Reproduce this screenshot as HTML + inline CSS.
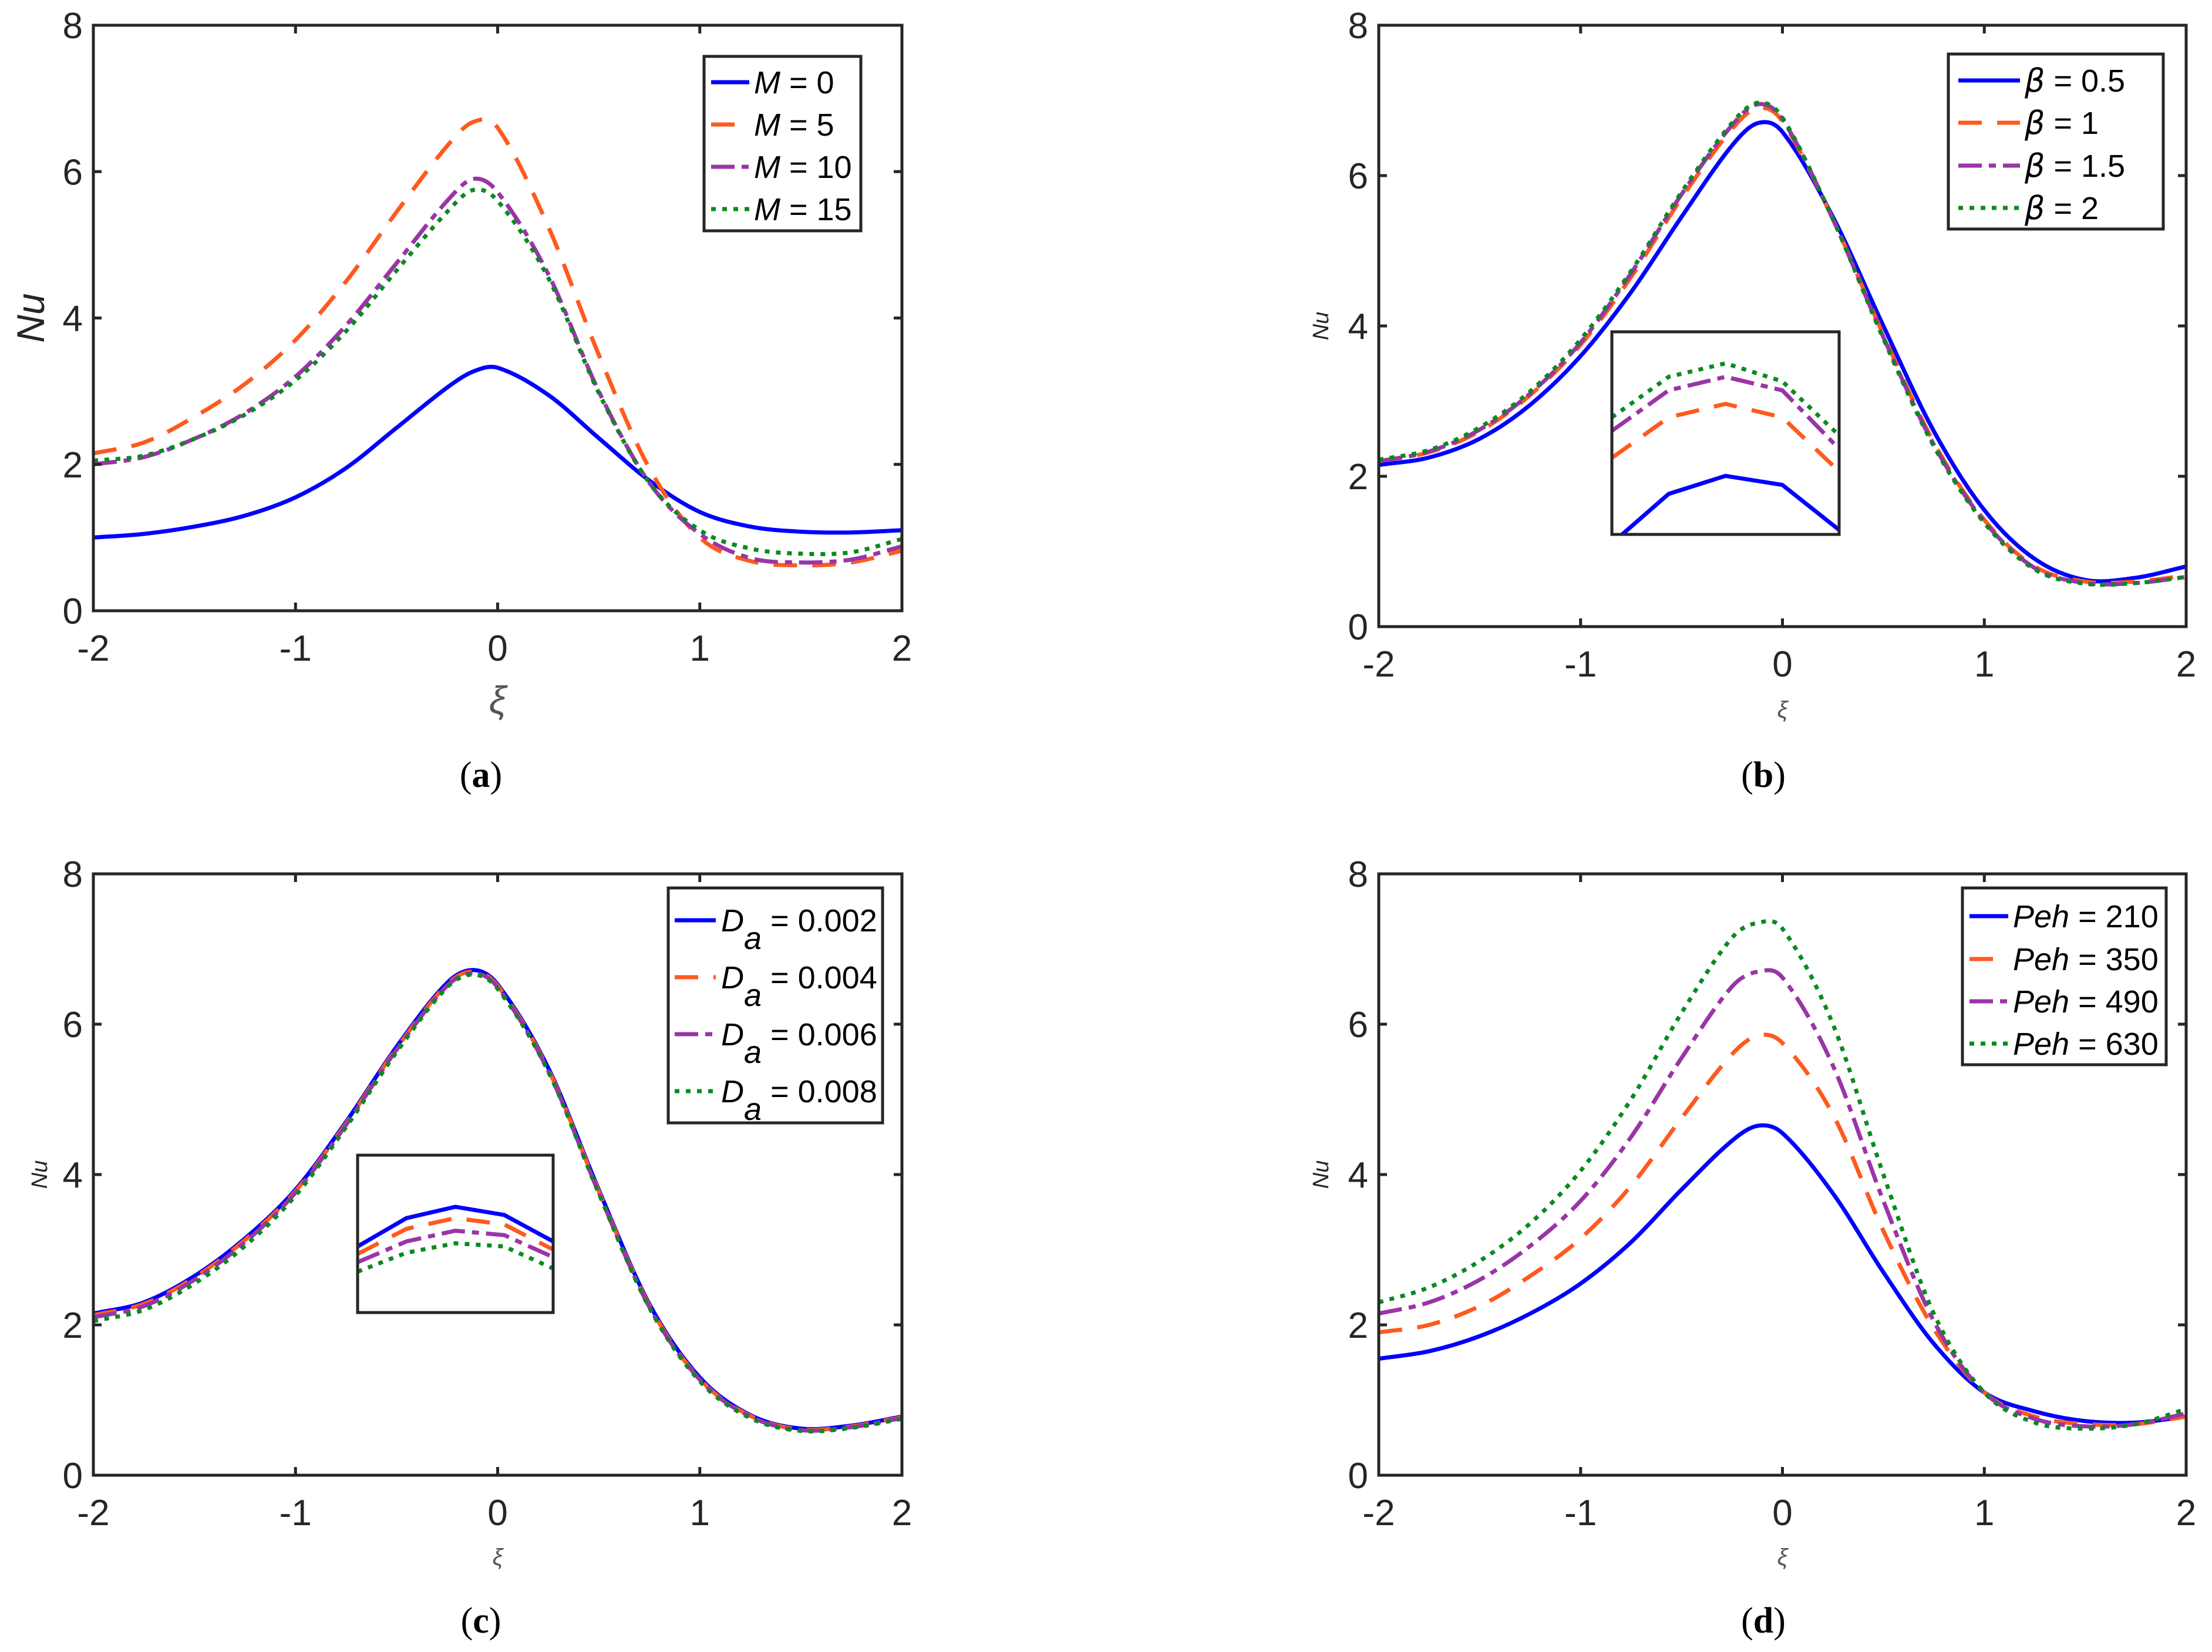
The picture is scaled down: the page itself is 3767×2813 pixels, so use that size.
<!DOCTYPE html>
<html><head><meta charset="utf-8"><style>
html,body{margin:0;padding:0;background:#fff;}
svg{display:block;}
</style></head><body>
<svg id="fig" xmlns="http://www.w3.org/2000/svg" width="3767" height="2813" viewBox="0 0 3767 2813" font-family="Liberation Sans, Arial, sans-serif"></svg>
<script>
// ---------- data ----------
const xs = [-2,-1.75,-1.5,-1.25,-1,-0.75,-0.5,-0.25,-0.12,0,0.25,0.5,0.75,1,1.25,1.5,1.75,2];
const xTicks = [-2,-1,0,1,2];
const xTickLabels = ["-2","-1","0","1","2"];
const yTicks = [0,2,4,6,8];
const yTickLabels = ["0","2","4","6","8"];
// panel a
const aM0  = [1.0,1.05,1.15,1.3,1.55,1.95,2.5,3.05,3.27,3.32,2.95,2.36,1.78,1.35,1.15,1.08,1.07,1.1];
const aM5  = [2.15,2.3,2.65,3.1,3.7,4.5,5.45,6.35,6.68,6.6,5.25,3.5,1.95,1.0,0.68,0.62,0.66,0.82];
const aM10 = [2.0,2.1,2.35,2.7,3.2,3.9,4.75,5.6,5.9,5.72,4.6,3.0,1.75,1.05,0.72,0.66,0.7,0.88];
const aM15 = [2.05,2.12,2.35,2.68,3.15,3.82,4.65,5.45,5.75,5.6,4.55,2.98,1.75,1.1,0.85,0.78,0.8,0.98];
// panel b
const bB05 = [2.15,2.25,2.5,2.95,3.6,4.45,5.45,6.4,6.7,6.58,5.45,4.0,2.6,1.55,0.9,0.62,0.65,0.8];
const bB1  = [2.2,2.32,2.6,3.08,3.75,4.65,5.7,6.62,6.9,6.72,5.42,3.88,2.45,1.42,0.8,0.6,0.6,0.68];
const bB15 = [2.2,2.33,2.62,3.1,3.78,4.7,5.75,6.67,6.95,6.75,5.42,3.85,2.42,1.4,0.78,0.58,0.58,0.66];
const bB2  = [2.22,2.35,2.65,3.13,3.82,4.73,5.78,6.7,6.97,6.77,5.42,3.83,2.4,1.38,0.76,0.57,0.58,0.66];
// panel c
const cD2 = [2.15,2.3,2.65,3.15,3.8,4.7,5.7,6.55,6.72,6.53,5.42,3.8,2.28,1.3,0.8,0.62,0.66,0.78];
const cD4 = [2.13,2.28,2.63,3.13,3.78,4.68,5.68,6.53,6.7,6.51,5.4,3.78,2.26,1.28,0.79,0.61,0.65,0.77];
const cD6 = [2.1,2.25,2.6,3.1,3.76,4.66,5.66,6.51,6.68,6.49,5.38,3.76,2.24,1.27,0.78,0.6,0.64,0.76];
const cD8 = [2.05,2.2,2.55,3.05,3.72,4.63,5.63,6.49,6.66,6.47,5.37,3.75,2.23,1.25,0.76,0.59,0.63,0.75];
// panel d
const dP210 = [1.55,1.65,1.85,2.15,2.55,3.1,3.8,4.45,4.65,4.55,3.75,2.7,1.75,1.1,0.85,0.72,0.7,0.78];
const dP350 = [1.9,2.0,2.25,2.65,3.15,3.85,4.75,5.6,5.85,5.75,4.8,3.25,1.95,1.1,0.78,0.68,0.68,0.78];
const dP490 = [2.15,2.3,2.6,3.05,3.65,4.5,5.55,6.5,6.7,6.62,5.45,3.65,2.05,1.1,0.75,0.65,0.68,0.82];
const dP630 = [2.3,2.5,2.85,3.35,4.05,5.0,6.15,7.15,7.35,7.27,6.0,4.0,2.15,1.1,0.7,0.62,0.68,0.88];
// insets (zoomed peak region)
const insetXs = [-0.45,-0.35,-0.25,-0.15,-0.05];
const bInsetB05 = [6.53,6.64,6.68,6.66,6.56];
const bInsetB1  = [6.72,6.81,6.84,6.81,6.69];
const bInsetB15 = [6.78,6.87,6.90,6.87,6.74];
const bInsetB2  = [6.81,6.90,6.93,6.89,6.77];
const cInsetD2 = [6.605,6.65,6.668,6.655,6.613];
const cInsetD4 = [6.593,6.633,6.65,6.64,6.6];
const cInsetD6 = [6.58,6.613,6.63,6.623,6.588];
const cInsetD8 = [6.565,6.595,6.61,6.605,6.57];

// ---------- styles ----------
const NS = "http://www.w3.org/2000/svg";
const svg = document.getElementById('fig');
const ST = [
  {c:"#0000ff", d:null},
  {c:"#ff5a1e", d:"40 26"},
  {c:"#9a35a6", d:"40 12 12 12"},
  {c:"#0a8a20", d:"8 11"}
];
function el(tag, attrs, parent){
  const e = document.createElementNS(NS, tag);
  for (const k in attrs) e.setAttribute(k, attrs[k]);
  (parent||svg).appendChild(e);
  return e;
}
function hermitePath(X, Y, sx, sy){
  const n = X.length, m = [];
  for (let i=0;i<n;i++){
    const a = Math.max(0,i-1), b = Math.min(n-1,i+1);
    m.push((Y[b]-Y[a])/(X[b]-X[a]));
  }
  let d = "M"+sx(X[0]).toFixed(1)+","+sy(Y[0]).toFixed(1);
  for (let i=0;i<n-1;i++){
    const h = X[i+1]-X[i];
    const c1x = X[i]+h/3, c1y = Y[i]+m[i]*h/3;
    const c2x = X[i+1]-h/3, c2y = Y[i+1]-m[i+1]*h/3;
    d += " C"+sx(c1x).toFixed(1)+","+sy(c1y).toFixed(1)+" "+sx(c2x).toFixed(1)+","+sy(c2y).toFixed(1)+" "+sx(X[i+1]).toFixed(1)+","+sy(Y[i+1]).toFixed(1);
  }
  return d;
}

function panel(cfg){
  const g = el('g', {});
  
  
  const L=cfg.L,R=cfg.R,T=cfg.T,B=cfg.B;
  const sx = v => L + (v+2)/4*(R-L);
  const sy = v => B - v/8*(B-T);
  const clipId = 'clip'+cfg.id;
  const cp = el('clipPath',{id:clipId},g);
  el('rect',{x:L,y:T,width:R-L,height:B-T},cp);
  cfg.series.forEach((s,i)=>{
    const p = el('path',{d:hermitePath(xs, s, sx, sy), fill:'none', stroke:ST[i].c, 'stroke-width':7, 'clip-path':'url(#'+clipId+')'},g);
    if (ST[i].d) p.setAttribute('stroke-dasharray', ST[i].d);
    
    
  });
  const box = el('rect',{x:L,y:T,width:R-L,height:B-T,fill:'none',stroke:'#262626','stroke-width':5},g);
  
  
  xTicks.forEach((v,i)=>{
    const x=sx(v);
    el('line',{x1:x,y1:B,x2:x,y2:B-14,stroke:'#262626','stroke-width':5},g);
    el('line',{x1:x,y1:T,x2:x,y2:T+14,stroke:'#262626','stroke-width':5},g);
    const t = el('text',{x:x, y:cfg.xtY, 'font-size':62, 'text-anchor':'middle', fill:'#262626'},g);
    t.textContent = xTickLabels[i];
    
    
  });
  yTicks.forEach((v,i)=>{
    const y=sy(v);
    el('line',{x1:L,y1:y,x2:L+14,y2:y,stroke:'#262626','stroke-width':5},g);
    el('line',{x1:R,y1:y,x2:R-14,y2:y,stroke:'#262626','stroke-width':5},g);
    const t = el('text',{x:L-18, y:y+22, 'font-size':62, 'text-anchor':'end', fill:'#262626'},g);
    t.textContent = yTickLabels[i];
    
    
  });
  const yl = el('text',{transform:'translate('+cfg.ylX+','+((T+B)/2)+') rotate(-90)', 'font-size':cfg.ylSize, 'text-anchor':'middle', 'font-style':'italic', fill:'#262626'},g);
  yl.textContent='Nu';
  
  
  const xl = el('text',{x:(L+R)/2, y:cfg.xlY, 'font-size':cfg.xlSize, 'text-anchor':'middle', 'font-style':'italic', fill:'#555'},g);
  xl.textContent='ξ';
  
  
  const cap = el('text',{x:cfg.capX, y:cfg.capY, 'font-size':62, 'text-anchor':'middle', fill:'#000', 'font-family':'Liberation Serif, serif'},g);
  cap.innerHTML = '(<tspan font-weight="bold">'+cfg.id+'</tspan>)';
  
  
  if (cfg.inset){
    const I = cfg.inset;
    const ix = v => I.L + (v-insetXs[0])/(insetXs[insetXs.length-1]-insetXs[0])*(I.R-I.L);
    const iy = v => I.B - (v-I.ymin)/(I.ymax-I.ymin)*(I.B-I.T);
    const icp = el('clipPath',{id:clipId+'i'},g);
    el('rect',{x:I.L,y:I.T,width:I.R-I.L,height:I.B-I.T},icp);
    el('rect',{x:I.L,y:I.T,width:I.R-I.L,height:I.B-I.T,fill:'#fff'},g);
    I.series.forEach((s,i)=>{
      const pts = insetXs.map((x,j)=>ix(x)+','+iy(s[j])).join(' ');
      const p = el('polyline',{points:pts, fill:'none', stroke:ST[i].c, 'stroke-width':7, 'clip-path':'url(#'+clipId+'i)'},g);
      if (ST[i].d) p.setAttribute('stroke-dasharray', ST[i].d);
      
      
    });
    const ib = el('rect',{x:I.L,y:I.T,width:I.R-I.L,height:I.B-I.T,fill:'none',stroke:'#262626','stroke-width':5},g);
    
    
  }
  const Lg = cfg.legend;
  const lg = el('g',{},g);
  
  
  el('rect',{x:Lg.L,y:Lg.T,width:Lg.R-Lg.L,height:Lg.B-Lg.T,fill:'#fff',stroke:'#262626','stroke-width':5},lg);
  Lg.rows.forEach((ry,i)=>{
    const ln = el('line',{x1:Lg.s1,y1:ry,x2:Lg.s2,y2:ry,stroke:ST[i].c,'stroke-width':7},lg);
    if (ST[i].d) ln.setAttribute('stroke-dasharray', ST[i].d);
    const t = el('text',{x:Lg.tx, y:ry+19, 'font-size':Lg.fs, fill:'#000'},lg);
    t.innerHTML = Lg.labels[i];
    
    
  });
}

panel({id:'a', L:159,R:1536,T:43,B:1040, xtY:1125, ylX:75, ylSize:66, xlY:1215, xlSize:66, capX:819, capY:1340,
  series:[aM0,aM5,aM10,aM15],
  legend:{L:1199,R:1466,T:96,B:393, s1:1211,s2:1276, tx:1284, fs:54, rows:[140,212,284,356],
    labels:['<tspan font-style="italic">M</tspan> = 0','<tspan font-style="italic">M</tspan> = 5','<tspan font-style="italic">M</tspan> = 10','<tspan font-style="italic">M</tspan> = 15']}
});
panel({id:'b', L:2348,R:3723,T:43,B:1067, xtY:1152, ylX:2262, ylSize:38, xlY:1222, xlSize:40, capX:3003, capY:1340,
  series:[bB05,bB1,bB15,bB2],
  inset:{L:2745,R:3132,T:565,B:910, ymin:6.55, ymax:7.0, series:[bInsetB05,bInsetB1,bInsetB15,bInsetB2]},
  legend:{L:3318,R:3684,T:92,B:390, s1:3335,s2:3440, tx:3448, fs:54, rows:[137,209,282,354],
    labels:['<tspan font-style="italic" font-family="DejaVu Sans">β</tspan> = 0.5','<tspan font-style="italic" font-family="DejaVu Sans">β</tspan> = 1','<tspan font-style="italic" font-family="DejaVu Sans">β</tspan> = 1.5','<tspan font-style="italic" font-family="DejaVu Sans">β</tspan> = 2']}
});
panel({id:'c', L:159,R:1536,T:1488,B:2512, xtY:2597, ylX:80, ylSize:38, xlY:2665, xlSize:40, capX:819, capY:2780,
  series:[cD2,cD4,cD6,cD8],
  inset:{L:609,R:942,T:1967,B:2235, ymin:6.5, ymax:6.75, series:[cInsetD2,cInsetD4,cInsetD6,cInsetD8]},
  legend:{L:1138,R:1503,T:1512,B:1912, s1:1149,s2:1219, tx:1228, fs:54, rows:[1567,1664,1761,1858],
    labels:['<tspan font-style="italic">D</tspan><tspan font-style="italic" dy="30">a</tspan><tspan dy="-30"> = 0.002</tspan>','<tspan font-style="italic">D</tspan><tspan font-style="italic" dy="30">a</tspan><tspan dy="-30"> = 0.004</tspan>','<tspan font-style="italic">D</tspan><tspan font-style="italic" dy="30">a</tspan><tspan dy="-30"> = 0.006</tspan>','<tspan font-style="italic">D</tspan><tspan font-style="italic" dy="30">a</tspan><tspan dy="-30"> = 0.008</tspan>']}
});
panel({id:'d', L:2348,R:3723,T:1488,B:2512, xtY:2597, ylX:2262, ylSize:38, xlY:2665, xlSize:40, capX:3003, capY:2780,
  series:[dP210,dP350,dP490,dP630],
  legend:{L:3342,R:3689,T:1512,B:1813, s1:3354,s2:3420, tx:3428, fs:54, rows:[1560,1633,1705,1777],
    labels:['<tspan font-style="italic">Peh</tspan> = 210','<tspan font-style="italic">Peh</tspan> = 350','<tspan font-style="italic">Peh</tspan> = 490','<tspan font-style="italic">Peh</tspan> = 630']}
});
</script>
</body></html>
